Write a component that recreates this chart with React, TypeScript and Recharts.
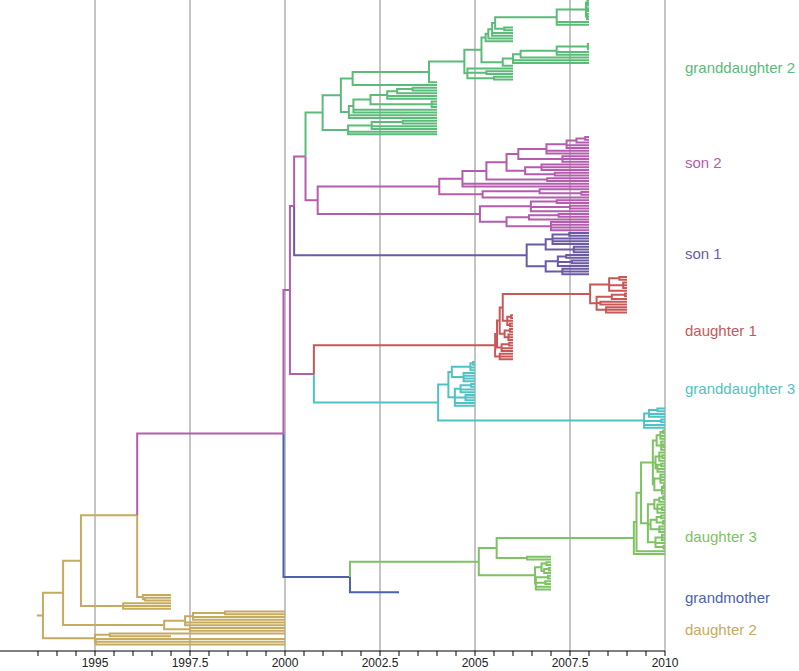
import React from 'react';
import { LineChart, Line, XAxis, YAxis, ReferenceLine, ReferenceDot } from 'recharts';

// ---- clade colours and labels ----
const CLADE_KEYS = ['d2', 'gm', 'd3', 'g3', 'd1', 'son1', 'son2', 'g2'];
const CLADE_COLORS = ['#c6aa5e', '#4b63ae', '#7dc263', '#4fc3c3', '#c85858', '#6c5aa6', '#b55cae', '#5bbb79'];
const LABEL_NAMES = ['daughter 2', 'grandmother', 'daughter 3', 'granddaughter 3', 'daughter 1', 'son 1', 'son 2', 'granddaughter 2'];
const LABEL_ROWS = [229.8, 217.8, 195.6, 141.7, 120.5, 92.5, 59.4, 24.8];

// ---- axis ticks ----
const YEAR_TICKS = [1993.5, 1994, 1994.5, 1995, 1995.5, 1996, 1996.5, 1997, 1997.5, 1998, 1998.5, 1999, 1999.5, 2000, 2000.5, 2001, 2001.5, 2002, 2002.5, 2003, 2003.5, 2004, 2004.5, 2005, 2005.5, 2006, 2006.5, 2007, 2007.5, 2008, 2008.5, 2009, 2009.5, 2010];
const GRID_YEARS = [1995, 1997.5, 2000, 2002.5, 2005, 2007.5, 2010];

// ---- tree (node = [time, ...children], leaf = sampling time, optional clade tag first) ----
const ROOT_START = 1993.47;

// granddaughter 2
const G_TOP2008 = [2007.15, [2007.92, [2007.96, 2008, 2008, 2008], [2007.97, 2008, 2008], [2007.95, 2008, 2008, 2008]], 2008, 2008];
const G_L = [2005.28, [2005.35, [2005.45, [2005.53, G_TOP2008, [2005.77, 2006, 2006]], 2006, 2006], 2006], 2006];
const G_E = [2005.73, [2006.0, [2006.2, [2007.15, [2007.97, 2008, 2008, 2008], 2008, 2008], 2008], 2008, 2008], 2006];
const G_BN = [2004.8, 2006, [2005.3, 2006, 2006], [2005.5, 2006, 2006]];
const G_UPPER = [2004.72, [2005.17, G_L, G_E], G_BN];
const G_1A = [2001.78, [2003.79, G_UPPER, 2004], 2004];
const G_1B = [2001.68, [2001.8, [2002.25, [2002.69, [2002.95, [2003.36, 2004, 2004], 2004], 2004, 2004], [2003.86, 2004, 2004, 2004]], 2004, 2004], 2004, 2004];
const G_2 = [2001.66, [2002.28, [2003.1, 2004, 2004], 2004, 2004], 2004, 2004];
const GREEN = ['g2', 2000.99, [2001.47, G_1A, G_1B], G_2];

// son 2
const S2_P741 = [2007.41, [2007.67, [2007.9, 2008, 2008], 2008], 2008, 2008];
const S2_P614 = [2006.14, [2006.88, S2_P741, 2008, 2008], [2007.3, 2008, 2008, 2008]];
const S2_P632 = [2006.32, [2006.75, 2008, 2008, 2008], [2007.1, 2008, 2008]];
const S2_UP = [2004.06,
  [2004.67, [2005.3, [2005.83, S2_P614, S2_P632], [2006.9, 2008, 2008]], 2008, 2008],
  [2005.2, [2006.7, 2008, [2007.8, 2008, 2008]], 2008]];
const S2_LOW = [2005.13,
  [2006.47, [2007.15, 2008, 2008], [2007.5, 2008, 2008], 2008],
  [2005.83, [2006.42, [2007.2, 2008, 2008], 2008], [2007.0, 2008, 2008, 2008, 2008]]];
const SON2 = [2000.86, S2_UP, S2_LOW];

// son 1
const SON1 = ['son1', 2006.36,
  [2006.86, [2007.04, [2007.48, 2008, 2008], 2008, 2008, 2008], [2007.6, 2008, 2008, 2008]],
  [2006.86, [2007.18, [2007.4, 2008, 2008], [2007.55, 2008, 2008], 2008], [2007.3, 2008, 2008, 2008]]];

// daughter 1
const D1_LATE = [2008.03,
  [2008.53, [2008.8, 2009, 2009], [2008.9, 2009, 2009, 2009], 2009],
  [2008.2, [2008.6, [2008.95, 2009, 2009], 2009], [2008.3, 2009, 2009], [2008.45, 2009, 2009, 2009]]];
const D1_A = [2005.85, [2005.95, 2006, 2006], 2006, [2005.92, 2006, 2006]];
const D1_B = [2005.78, [2005.92, 2006, 2006], [2005.88, 2006, 2006, 2006]];
const D1_C = [2005.7, [2005.9, 2006, 2006], 2006, 2006];
const D1_D = [2005.65, 2006, 2006, 2006];
const RED = ['d1', 2005.53, [2005.58, [2005.65, [2005.73, D1_LATE, D1_A], D1_B], D1_C], D1_D];

// granddaughter 3
const CYAN = ['g3', 2004.03,
  [2004.3,
    [2004.39, [2004.88, [2004.95, 2005, 2005], 2005, 2005], [2004.7, 2005, 2005, 2005, 2005]],
    [2004.47, [2004.62, [2004.9, 2005, 2005], 2005, 2005], [2004.75, 2005, 2005, 2005], 2005, 2005]],
  [2009.45, [2009.58, [2009.8, 2010, 2010], 2010, 2010], [2009.9, 2010, 2010], 2010, 2010]];

// daughter 3
const D3_Z3 = [2009.68,
  [2009.78, [2009.88, [2009.95, 2010, 2010], 2010, 2010], [2009.9, 2010, [2009.96, 2010, 2010], 2010]],
  [2009.75, [2009.85, 2010, [2009.93, 2010, 2010], 2010], [2009.8, [2009.9, 2010, 2010], 2010, 2010]],
  [2009.72, [2009.88, 2010, 2010, 2010, 2010], [2009.92, [2009.97, 2010, 2010], 2010, 2010]]];
const D3_Z4 = [2009.55,
  [2009.72, [2009.85, [2009.95, 2010, 2010], 2010], [2009.8, 2010, [2009.92, 2010, 2010], 2010]],
  [2009.62, [2009.78, [2009.9, 2010, 2010], [2009.95, 2010, 2010]], [2009.85, 2010, 2010, 2010]],
  [2009.75, [2009.92, 2010, 2010, 2010], 2010, [2009.96, 2010, 2010]]];
const D3_Z0 = [2009.18, [2009.25, [2009.37, D3_Z3, D3_Z4], 2010], 2010];
const D3_N535 = [2006.58,
  [2006.75, [2006.88, 2007, 2007], [2006.82, [2006.95, 2007, 2007], 2007]],
  [2006.6, [2006.92, 2007, 2007], [2006.85, 2007, 2007], 2007, 2007]];
const D3 = ['d3', 2005.1, [2005.57, D3_Z0, [2006.37, 2007, 2007]], D3_N535];

// grandmother
const GRANDMOTHER = ['gm', 2001.71, D3, 2003.0];

// backbone (son 2 colour)
const BACKBONE = ['son2', 1999.96,
  [2000.13,
    [2000.24, [2000.54, GREEN, SON2], SON1],
    [2000.76, RED, CYAN]],
  GRANDMOTHER];

// daughter 2
const D2_N143 = [1996.26, 1997.0, [1996.32, 1997.0, 1997.0]];
const D2_N123 = [1995.74, 1997.0, 1997.0, 1997.0];
const D2_E = [1996.82, [1997.37, [1997.58, [1998.42, 2000, 2000], 2000, 2000], 2000, 2000], [1997.5, 2000, 2000]];
const D2_B = [1995.0, [1995.39, 2000, 1997.0], [1995.02, 2000, 2000, 2000]];
const TREE = ['d2', 1993.63, [1994.16, [1994.63, [1996.11, BACKBONE, D2_N143], D2_N123], D2_E], D2_B];

const Y_DOMAIN = [0, 237.4];

// ---- layout ----
type Laid = { x: number; y: number; color: string; kids: Laid[] };

function lay(node: any, color: string, counter: { i: number }): Laid {
  if (typeof node === 'number') {
    const y = counter.i;
    counter.i += 1;
    return { x: node, y, color, kids: [] };
  }
  let arr = node;
  let c = color;
  if (typeof arr[0] === 'string') {
    c = arr[0];
    arr = arr.slice(1);
  }
  const kids = arr.slice(1).map((k: any) => lay(k, c, counter));
  const y = (kids[0].y + kids[kids.length - 1].y) / 2;
  return { x: arr[0], y, color: c, kids };
}

function collect(n: Laid, px: number, py: number, out: Record<string, { x: number; y: number | null }[]>) {
  const list = out[n.color] || (out[n.color] = []);
  list.push({ x: px, y: py }, { x: px, y: n.y }, { x: n.x, y: n.y }, { x: n.x, y: null });
  n.kids.forEach((k) => collect(k, n.x, n.y, out));
}

const laidRoot = lay(TREE, 'd2', { i: 0 });
const SEGMENTS: Record<string, { x: number; y: number | null }[]> = {};
collect(laidRoot, ROOT_START, laidRoot.y, SEGMENTS);

const FONT = '"Liberation Sans", Arial, Helvetica, sans-serif';

export default function App() {
  return (
    <div style={{ position: 'absolute', left: 0, top: 0, background: '#fff' }}>
      <LineChart width={799} height={671} margin={{ top: 0, right: 134, bottom: 0, left: 0 }} style={{ fontFamily: FONT }}>
        <XAxis
          dataKey="x"
          type="number"
          domain={[1992.5, 2010]}
          allowDataOverflow
          ticks={YEAR_TICKS}
          interval={0}
          tickFormatter={(v: number) => (GRID_YEARS.includes(v) ? String(v) : '')}
          height={20}
          tickSize={5}
          axisLine={{ stroke: '#000', strokeWidth: 1 }}
          tickLine={{ stroke: '#000', strokeWidth: 1 }}
          tick={{ fill: '#222', fontSize: 12, fontFamily: FONT }}
        />
        <YAxis hide type="number" domain={Y_DOMAIN} reversed allowDataOverflow />
        {GRID_YEARS.map((yr) => (
          <ReferenceLine key={yr} x={yr} stroke="#8a8a8a" strokeWidth={1} ifOverflow="visible" />
        ))}
        {CLADE_KEYS.map((k, i) => (
          <Line
            key={k}
            data={SEGMENTS[k] || []}
            dataKey="y"
            stroke={CLADE_COLORS[i]}
            strokeWidth={2}
            dot={false}
            activeDot={false}
            connectNulls={false}
            isAnimationActive={false}
            type="linear"
          />
        ))}
        {CLADE_KEYS.map((k, i) => (
          <ReferenceDot
            key={'lbl-' + k}
            x={2010}
            y={LABEL_ROWS[i]}
            r={1}
            fill="none"
            stroke="none"
            ifOverflow="visible"
            label={{ value: LABEL_NAMES[i], position: 'right', offset: 19, fill: CLADE_COLORS[i], fontSize: 15, fontFamily: FONT }}
          />
        ))}
      </LineChart>
    </div>
  );
}
